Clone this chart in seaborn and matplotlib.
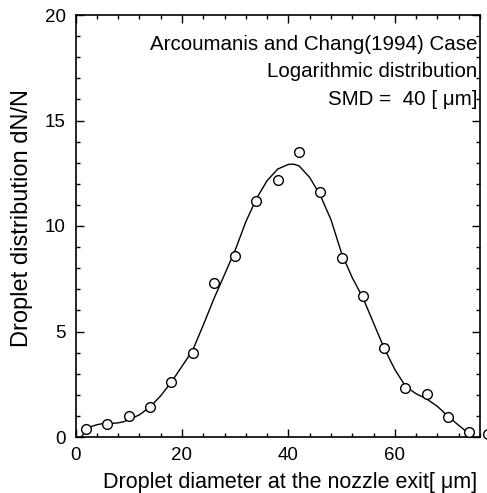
import numpy as np
import pandas as pd
import matplotlib
matplotlib.use("Agg")
import matplotlib.pyplot as plt
import seaborn as sns
from matplotlib.ticker import MultipleLocator

# measured points (open circles)
meas_x = [2, 6, 10, 14, 18, 22, 26, 30, 34, 38, 42, 46, 50, 54, 58, 62, 66, 70, 74, 77.5]
meas_y = [0.4, 0.6, 1.0, 1.4, 2.6, 4.0, 7.3, 8.6, 11.2, 12.2, 13.5, 11.6, 8.5, 6.7, 4.2, 2.3, 2.05, 0.95, 0.22, 0.15]

# fitted curve
curve_x = [1.1, 2, 3, 4, 5, 6, 7, 8, 9, 10, 12, 14, 16, 18, 20, 22, 24, 26, 28, 30, 32, 34,
           36, 38, 40, 41, 42, 44, 46, 48, 50, 52, 54, 56, 58, 60, 62, 64, 66, 68, 70, 72, 74, 74.6]
curve_y = [0.0, 0.32, 0.5, 0.58, 0.63, 0.65, 0.65, 0.67, 0.72, 0.82, 1.05, 1.42, 1.95, 2.6, 3.35,
           4.1, 5.3, 6.55, 7.7, 8.85, 10.2, 11.3, 12.15, 12.7, 12.92, 12.93, 12.85, 12.3, 11.45,
           10.3, 8.7, 7.55, 6.6, 5.4, 4.2, 3.2, 2.4, 2.05, 1.8, 1.45, 0.98, 0.55, 0.15, 0.0]

annotations = ["Arcoumanis and Chang(1994) Case", "Logarithmic distribution", "SMD =  40 [ μm]"]
xlabel = "Droplet diameter at the nozzle exit[ μm]"
ylabel = "Droplet distribution dN/N"

sns.set_style("ticks")
plt.rcParams['font.family'] = ['Liberation Sans', 'DejaVu Sans']
plt.rcParams['text.color'] = 'black'
plt.rcParams['axes.labelcolor'] = 'black'
plt.rcParams['xtick.color'] = 'black'
plt.rcParams['ytick.color'] = 'black'

fig = plt.figure(figsize=(4.87, 4.93), dpi=100)
ax = fig.add_axes([75.5 / 487, 1 - 437 / 493, (480 - 75.5) / 487, (437 - 15) / 493])

df_c = pd.DataFrame({"x": curve_x, "y": curve_y})
df_m = pd.DataFrame({"x": meas_x, "y": meas_y})
sns.lineplot(data=df_c, x="x", y="y", ax=ax, color="black", linewidth=1.0, sort=False)
ax.plot(df_m["x"], df_m["y"], linestyle="none", marker="o", markersize=7,
        markerfacecolor="white", markeredgecolor="black", markeredgewidth=1.0, clip_on=False, zorder=5)

ax.set_xlim(0, 76)
ax.set_ylim(0, 20)
ax.xaxis.set_major_locator(MultipleLocator(20))
ax.xaxis.set_minor_locator(MultipleLocator(4))
ax.yaxis.set_major_locator(MultipleLocator(5))
ax.yaxis.set_minor_locator(MultipleLocator(1))
ax.tick_params(which="both", direction="in", top=True, right=True, labelsize=13.5, width=1.0,
               color="black", labelcolor="black")
ax.tick_params(which="major", length=6)
ax.tick_params(which="minor", length=3)
ax.tick_params(axis="x", pad=7)
ax.tick_params(axis="y", pad=7)
for s in ax.spines.values():
    s.set_linewidth(1.2)
    s.set_color("black")

ax.set_xlabel(xlabel, fontsize=15.5, color="black")
ax.set_ylabel(ylabel, fontsize=17, color="black")
ax.xaxis.set_label_coords(0.530, -0.083)
ax.yaxis.set_label_coords(-0.132, 0.519)
ax.yaxis.label.set_va("center")

ys = [0.931, 0.867, 0.799]
for t, yy in zip(annotations, ys):
    ax.text(0.993, yy, t, transform=ax.transAxes, ha="right", va="center", fontsize=14.8, color="black")

fig.savefig("out.png", dpi=100)
